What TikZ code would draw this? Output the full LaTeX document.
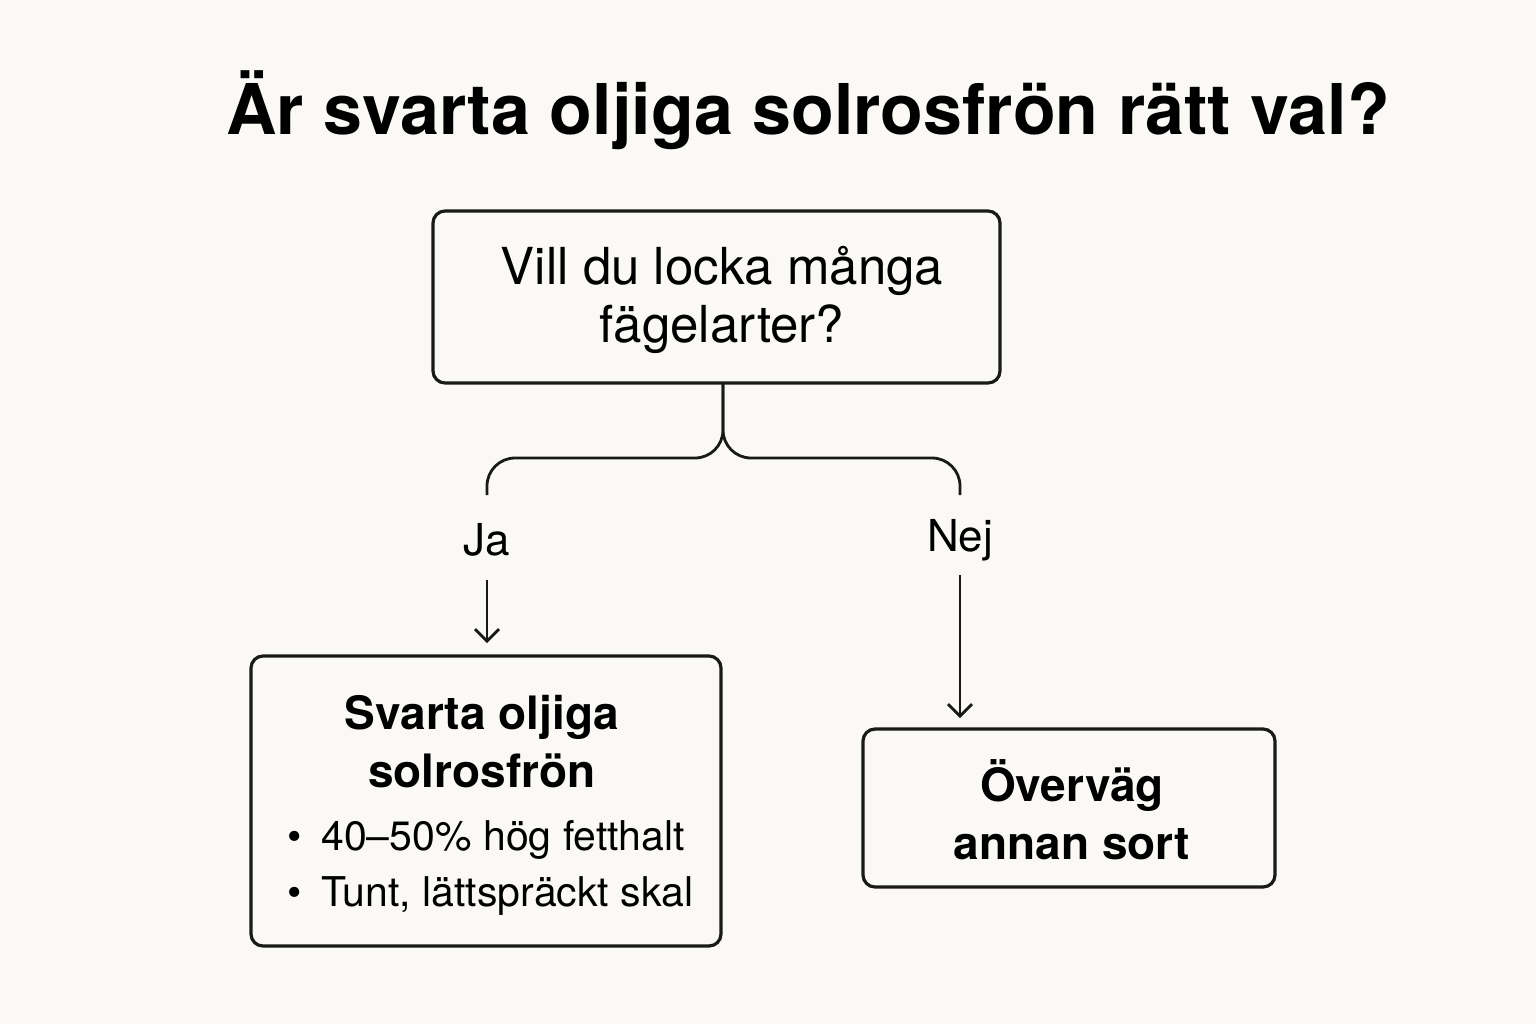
\documentclass[tikz,border=0pt]{standalone}
\usepackage{fontspec}
\setmainfont{TeX Gyre Heros}
\usetikzlibrary{arrows.meta}
\definecolor{bg}{HTML}{FAF9F5}
\begin{document}
\begin{tikzpicture}[x=0.5pt,y=-0.5pt,
  box/.style={draw=black!90,line width=1.6pt,rounded corners=6pt},
  ln/.style={draw=black!90,line width=1.4pt},
  arr/.style={ln,-{Straight Barb[length=6pt,width=12pt]}}]
\fill[bg] (0,0) rectangle (1536,1024);
\useasboundingbox (0,0) rectangle (1536,1024);
\node[font=\fontsize{35}{40}\selectfont\bfseries] (title) at (808,110) {Är svarta oljiga solrosfrön rätt val?};
\draw[box] (433,211) rectangle (1000,383);
\node[align=center,font=\fontsize{25.5}{29}\selectfont] (q) at (722,300) {Vill du locka många\\ fägelarter?};
\coordinate (qb) at (723,383);
\draw[ln,rounded corners=14pt] (qb) |- (487,458) -- (487,495);
\draw[ln,rounded corners=14pt] (qb) |- (960,458) -- (960,495);
\node[font=\fontsize{22}{26}\selectfont] (ja) at (487,540) {Ja};
\node[font=\fontsize{22}{26}\selectfont] (nej) at (960,540) {Nej};
\draw[box] (251,656) rectangle (721,946);
\node[align=center,font=\fontsize{23}{29}\selectfont\bfseries] (a) at (482,742) {Svarta oljiga\\ solrosfrön};
\node[anchor=west,font=\fontsize{20.5}{22}\selectfont] (b1) at (280,840) {\textbullet\hspace{10pt}40–50\% hög fetthalt};
\node[anchor=west,font=\fontsize{20.5}{22}\selectfont] (b2) at (280,896) {\textbullet\hspace{10pt}Tunt, lättspräckt skal};
\draw[box] (863,729) rectangle (1275,887);
\node[align=center,font=\fontsize{23}{29}\selectfont\bfseries] (n) at (1072,810) {Överväg\\ annan sort};
\draw[arr] (487,580) -- (487,643);
\draw[arr] (960,575) -- (960,718);
\end{tikzpicture}
\end{document}
